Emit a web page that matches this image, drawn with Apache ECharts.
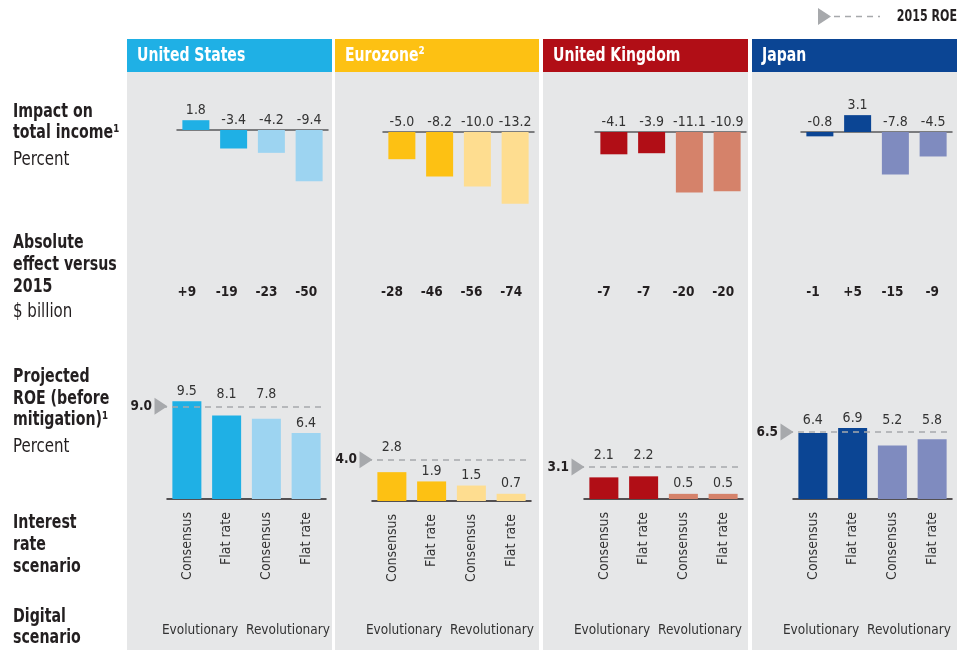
<!DOCTYPE html>
<html><head><meta charset="utf-8">
<script src="https://cdn.jsdelivr.net/npm/echarts@6/dist/echarts.min.js"></script>
<style>html,body{margin:0;padding:0;background:#fff}#c{width:960px;height:650px}</style>
</head><body><div id="c"></div>
<script>
// ---------- DATA ----------
const regions = ['United States', 'Eurozone²', 'United Kingdom', 'Japan'];
const interestScenarios = ['Consensus', 'Flat rate', 'Consensus', 'Flat rate'];
const digitalScenarios = ['Evolutionary', 'Revolutionary'];

const impactUS = [1.8, -3.4, -4.2, -9.4];
const impactEZ = [-5.0, -8.2, -10.0, -13.2];
const impactUK = [-4.1, -3.9, -11.1, -10.9];
const impactJP = [-0.8, 3.1, -7.8, -4.5];

const absoluteUS = ['+9', '-19', '-23', '-50'];
const absoluteEZ = ['-28', '-46', '-56', '-74'];
const absoluteUK = ['-7', '-7', '-20', '-20'];
const absoluteJP = ['-1', '+5', '-15', '-9'];

const roeUS = [9.5, 8.1, 7.8, 6.4];
const roeEZ = [2.8, 1.9, 1.5, 0.7];
const roeUK = [2.1, 2.2, 0.5, 0.5];
const roeJP = [6.4, 6.9, 5.2, 5.8];

const roe2015 = [9.0, 4.0, 3.1, 6.5];

// ---------- STYLE / LAYOUT ----------
const impacts = [impactUS, impactEZ, impactUK, impactJP];
const absolutes = [absoluteUS, absoluteEZ, absoluteUK, absoluteJP];
const roes = [roeUS, roeEZ, roeUK, roeJP];

const FF = '"Liberation Sans Narrow","DejaVu Sans Condensed","Arial Narrow",sans-serif';
const TXT = '#231f20';
const darkC = ['#1fb0e5', '#fdc113', '#b10e16', '#0b4594'];
const lightC = ['#9dd4f1', '#fedd90', '#d5826a', '#7f8bbf'];
const panelLeft = [127, 335, 543, 752];
const panelW = [205, 204, 205, 205];
const impactLeft = [177, 383, 595, 801];
const impactBase = [130, 132, 132, 132];
const roeLeft = [167, 372, 584, 793];
const roeBase = [499, 501, 499, 499];
const digitalLeft = [156, 360, 568, 777];
const IMP_MIN = -14, IMP_MAX = 4, IMP_PPU = 5.44;
const IMP_H = (IMP_MAX - IMP_MIN) * IMP_PPU;
const ROE_MAX = 10, ROE_H = 103, ROE_PPU = ROE_H / ROE_MAX;
const IMP_W = 151, ROE_W = 159, DIG_W = 176;

const grid = [], xAxis = [], yAxis = [], series = [];
for (let p = 0; p < 4; p++) {
  const roeTop = roeBase[p] - ROE_H;
  grid.push({ left: impactLeft[p], top: impactBase[p] - IMP_MAX * IMP_PPU, width: IMP_W, height: IMP_H, containLabel: false });
  grid.push({ left: roeLeft[p], top: roeTop, width: ROE_W, height: ROE_H, containLabel: false });
  // impact axis (zero line)
  xAxis.push({ type: 'category', gridIndex: 2 * p, data: interestScenarios,
    axisLine: { onZero: true, lineStyle: { color: '#58595b', width: 1.5 } },
    axisTick: { show: false }, axisLabel: { show: false }, splitLine: { show: false } });
  // ROE axis with interest rate scenarios
  xAxis.push({ type: 'category', gridIndex: 2 * p + 1, position: 'bottom', data: interestScenarios,
    axisLine: { onZero: false, lineStyle: { color: TXT, width: 1.5 } }, axisTick: { show: false },
    axisLabel: { interval: 0, rotate: 90, margin: 13, fontFamily: FF, fontSize: 14, color: '#333' } });
  // absolute effect axis
  xAxis.push({ type: 'category', gridIndex: 2 * p + 1, position: 'top', data: interestScenarios,
    axisLine: { show: false, onZero: false }, axisTick: { show: false },
    axisLabel: { interval: 0, margin: roeTop - 299, fontFamily: FF, fontSize: 13.5, fontWeight: 'bold', color: TXT,
      formatter: (v, i) => absolutes[p][i] } });
  yAxis.push({ type: 'value', gridIndex: 2 * p, min: IMP_MIN, max: IMP_MAX, show: false });
  yAxis.push({ type: 'value', gridIndex: 2 * p + 1, min: 0, max: ROE_MAX, show: false });

  series.push({
    type: 'bar', xAxisIndex: 3 * p, yAxisIndex: 2 * p, barWidth: 27, silent: true,
    data: impacts[p].map((v, i) => ({ value: v, itemStyle: { color: i < 2 ? darkC[p] : lightC[p] } })),
    label: { show: true, position: 'top', distance: 3, fontFamily: FF, fontSize: 14, color: '#333',
      formatter: o => o.value.toFixed(1) }
  });
  const ref = roe2015[p];
  series.push({
    type: 'bar', xAxisIndex: 3 * p + 1, yAxisIndex: 2 * p + 1, barWidth: 29, silent: true,
    data: roes[p].map((v, i) => {
      const d = ref - v;
      const lift = (d > 0 && d < 2) ? d * ROE_PPU + 2 : 0;
      return { value: v, itemStyle: { color: i < 2 ? darkC[p] : lightC[p] }, label: { offset: [0, -lift] } };
    }),
    label: { show: true, position: 'top', distance: 3, fontFamily: FF, fontSize: 14, color: '#333',
      formatter: o => o.value.toFixed(1) },
    markLine: {
      silent: true, symbol: ['triangle', 'none'], symbolSize: [17, 13], symbolRotate: -90,
      lineStyle: { color: '#a7a9ac', type: [6, 5], width: 1.5 },
      label: { show: true, position: 'start', distance: 9, fontFamily: FF, fontSize: 13.5, fontWeight: 'bold', color: TXT,
        formatter: () => ref.toFixed(1) },
      data: [[{ yAxis: ref, x: roeLeft[p] - 6 }, { yAxis: ref, x: roeLeft[p] + ROE_W }]]
    }
  });
}
// digital scenario grids (one per region)
for (let p = 0; p < 4; p++) {
  grid.push({ left: digitalLeft[p], top: 600, width: DIG_W, height: 20, containLabel: false });
  xAxis.push({ type: 'category', gridIndex: 8 + p, position: 'bottom', data: digitalScenarios,
    axisLine: { show: false, onZero: false }, axisTick: { show: false },
    axisLabel: { interval: 0, margin: 3, fontFamily: FF, fontSize: 13.5, color: '#333' } });
  yAxis.push({ type: 'value', gridIndex: 8 + p, min: 0, max: 1, show: false });
}

const graphic = [];
for (let p = 0; p < 4; p++) {
  graphic.push({ type: 'rect', z: -10, shape: { x: panelLeft[p], y: 72, width: panelW[p], height: 580 }, style: { fill: '#e6e7e8' } });
  graphic.push({ type: 'rect', z: -10, shape: { x: panelLeft[p], y: 39, width: panelW[p], height: 33 }, style: { fill: darkC[p] } });
  graphic.push({ type: 'text', z: 5, x: panelLeft[p] + 10, y: 56, scaleX: 0.78,
    style: { text: regions[p], fill: '#fff', font: 'bold 20px ' + FF, textVerticalAlign: 'middle' } });
}
function rowText(str, y, bold) {
  graphic.push({ type: 'text', z: 5, x: 13, y: y, scaleX: bold ? 0.83 : 0.88,
    style: { text: str, fill: TXT, font: (bold ? 'bold ' : '') + '19px ' + FF, textVerticalAlign: 'middle' } });
}
rowText('Impact on', 112, true); rowText('total income¹', 133, true); rowText('Percent', 160, false);
rowText('Absolute', 243, true); rowText('effect versus', 265, true); rowText('2015', 287, true); rowText('$ billion', 312, false);
rowText('Projected', 377, true); rowText('ROE (before', 399, true); rowText('mitigation)¹', 420, true); rowText('Percent', 447, false);
rowText('Interest', 523, true); rowText('rate', 545, true); rowText('scenario', 567, true);
rowText('Digital', 617, true); rowText('scenario', 638, true);
// legend
graphic.push({ type: 'polygon', shape: { points: [[818, 8], [818, 25], [831, 16.5]] }, style: { fill: '#a7a9ac' } });
graphic.push({ type: 'line', shape: { x1: 834, y1: 16.5, x2: 880, y2: 16.5 }, style: { stroke: '#a7a9ac', lineWidth: 1.5, lineDash: [6, 5] } });
graphic.push({ type: 'text', x: 957, y: 17, scaleX: 0.82,
  style: { text: '2015 ROE', fill: TXT, font: 'bold 15px ' + FF, textAlign: 'right', textVerticalAlign: 'middle' } });

const chart = echarts.init(document.getElementById('c'), null, { renderer: 'canvas' });
chart.setOption({ animation: false, backgroundColor: '#fff', grid, xAxis, yAxis, series, graphic });
</script></body></html>
